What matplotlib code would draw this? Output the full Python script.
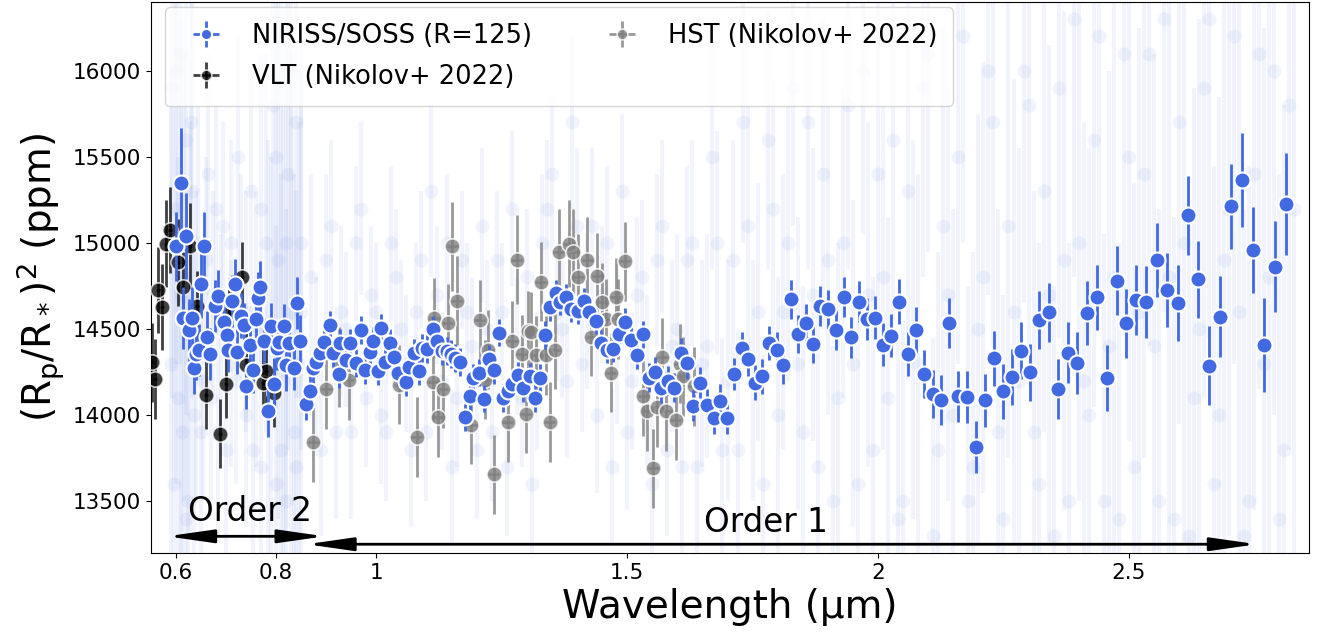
import matplotlib.pyplot as plt
import numpy as np

# NIRISS/SOSS, R=125 binned (order 2 then order 1)
soss_wl = [0.601, 0.611, 0.614, 0.621, 0.627, 0.632, 0.637, 0.641, 0.646, 0.651,
           0.656, 0.662, 0.668, 0.679, 0.684, 0.696, 0.702, 0.705, 0.713, 0.719,
           0.723, 0.731, 0.736, 0.741, 0.748, 0.754, 0.760, 0.765, 0.769, 0.777,
           0.784, 0.791, 0.796, 0.803, 0.807, 0.816, 0.821, 0.826, 0.836, 0.841,
           0.847,
           0.860, 0.867, 0.874, 0.880, 0.887, 0.896, 0.907, 0.913, 0.925, 0.927,
           0.940, 0.947, 0.960, 0.970, 0.978, 0.987, 0.993, 1.003, 1.010, 1.017,
           1.027, 1.035, 1.043, 1.060, 1.066, 1.076, 1.085, 1.092, 1.102, 1.113,
           1.121, 1.130, 1.140, 1.148, 1.156, 1.166, 1.176, 1.186, 1.193, 1.204,
           1.214, 1.225, 1.234, 1.244, 1.252, 1.262, 1.271, 1.282, 1.292, 1.306,
           1.316, 1.326, 1.337, 1.347, 1.358, 1.367, 1.379, 1.389, 1.402, 1.413,
           1.424, 1.437, 1.447, 1.459, 1.471, 1.483, 1.495, 1.507, 1.520, 1.532,
           1.544, 1.556, 1.568, 1.581, 1.593, 1.607, 1.619, 1.631, 1.646, 1.659,
           1.673, 1.686, 1.699, 1.713, 1.728, 1.741, 1.754, 1.769, 1.783, 1.798,
           1.811, 1.826, 1.841, 1.856, 1.871, 1.885, 1.901, 1.916, 1.932, 1.947,
           1.962, 1.977, 1.994, 2.010, 2.025, 2.042, 2.059, 2.075, 2.092, 2.109,
           2.125, 2.142, 2.160, 2.178, 2.195, 2.213, 2.231, 2.249, 2.267, 2.285,
           2.303, 2.321, 2.341, 2.359, 2.378, 2.397, 2.416, 2.436, 2.456, 2.476,
           2.494, 2.515, 2.535, 2.555, 2.576, 2.597, 2.618, 2.638, 2.660, 2.682,
           2.703, 2.725, 2.747, 2.769, 2.791, 2.813]
soss_depth = [14981, 15350, 14563, 15039, 14495, 14563, 14274, 14356, 14380, 14762,
              14981, 14453, 14356, 14634, 14692, 14543, 14466, 14380, 14665, 14760,
              14370, 14578, 14524, 14167, 14409, 14260, 14559, 14682, 14746, 14434,
              14023, 14520, 14181, 14390, 14424, 14518, 14293, 14422, 14277, 14650,
              14432,
              14065, 14138, 14274, 14312, 14359, 14424, 14524, 14360, 14240, 14422,
              14318, 14422, 14303, 14495, 14260, 14370, 14432, 14258, 14505, 14312,
              14418, 14337, 14248, 14193, 14280, 14360, 14258, 14390, 14384, 14499,
              14434, 14374, 14374, 14355, 14332, 14308, 13988, 14109, 14216, 14248,
              14096, 14326, 14260, 14480, 14100, 14138, 14180, 14231, 14158, 14225,
              14100, 14219, 14466, 14627, 14711, 14659, 14688, 14615, 14607, 14665,
              14598, 14548, 14422, 14380, 14384, 14472, 14543, 14437, 14347, 14470,
              14219, 14251, 14158, 14200, 14161, 14360, 14303, 14055, 14190, 14061,
              13984, 14085, 13984, 14239, 14390, 14328, 14190, 14225, 14418, 14376,
              14289, 14673, 14470, 14534, 14414, 14634, 14615, 14495, 14688, 14453,
              14659, 14559, 14567, 14409, 14462, 14659, 14355, 14495, 14239, 14123,
              14086, 14534, 14109, 14106, 13816, 14086, 14332, 14138, 14222, 14374,
              14250, 14553, 14598, 14154, 14364, 14303, 14592, 14685, 14216, 14781,
              14534, 14669, 14659, 14900, 14727, 14653, 15161, 14789, 14287, 14572,
              15213, 15364, 14958, 14409, 14862, 15225]
soss_err = [200, 320, 180, 250, 180, 180, 150, 150, 150, 200,
            200, 150, 150, 150, 150, 150, 130, 130, 150, 150,
            130, 130, 130, 130, 130, 130, 130, 150, 150, 130,
            150, 130, 150, 130, 130, 130, 150, 130, 130, 150,
            150,
            90, 90, 85, 85, 85, 85, 80, 80, 80, 80,
            80, 80, 80, 80, 80, 80, 80, 80, 80, 80,
            80, 80, 80, 80, 80, 80, 80, 80, 80, 80,
            80, 80, 80, 80, 80, 80, 80, 80, 80, 80,
            80, 80, 80, 80, 80, 80, 80, 80, 80, 80,
            80, 80, 80, 80, 75, 75, 75, 75, 75, 75,
            75, 75, 75, 75, 75, 75, 80, 80, 80, 80,
            85, 85, 85, 85, 85, 90, 90, 90, 90, 90,
            95, 95, 95, 95, 95, 100, 100, 100, 100, 105,
            105, 115, 110, 110, 110, 115, 115, 115, 116, 120,
            120, 120, 125, 125, 125, 130, 130, 135, 140, 140,
            145, 145, 150, 150, 150, 155, 160, 160, 160, 165,
            165, 170, 170, 175, 175, 180, 185, 190, 190, 200,
            200, 205, 210, 215, 215, 220, 231, 225, 230, 235,
            245, 273, 250, 272, 265, 295]
soss_xerr = 0.004

# VLT (Nikolov+ 2022)
vlt_wl = [0.552, 0.558, 0.564, 0.573, 0.580, 0.589, 0.604, 0.615, 0.629, 0.643,
          0.661, 0.689, 0.701, 0.706, 0.733, 0.741, 0.774, 0.781, 0.796]
vlt_depth = [14308, 14210, 14727, 14627, 14997, 15074, 14887, 14746, 14981, 14636,
             14119, 13894, 14183, 14595, 14804, 14293, 14187, 14258, 14129]
vlt_err = [230, 230, 250, 250, 250, 250, 250, 200, 250, 200,
           200, 200, 200, 200, 200, 200, 200, 200, 200]
vlt_xerr = 0.004

# HST (Nikolov+ 2022)
hst_wl = [0.874, 0.900, 0.925, 0.945, 1.046, 1.081, 1.113, 1.116, 1.123, 1.132,
          1.142, 1.151, 1.160, 1.189, 1.206, 1.216, 1.223, 1.234, 1.262, 1.271,
          1.280, 1.290, 1.298, 1.302, 1.309, 1.318, 1.328, 1.338, 1.346, 1.356,
          1.364, 1.384, 1.392, 1.402, 1.420, 1.428, 1.440, 1.449, 1.457, 1.467,
          1.477, 1.481, 1.495, 1.532, 1.540, 1.552, 1.560, 1.570, 1.578, 1.597,
          1.605, 1.611, 1.633]
hst_depth = [13843, 14150, 14280, 14202, 14177, 13874, 14193, 14567, 13990, 14154,
             14534, 14981, 14665, 13946, 14553, 14206, 14380, 13656, 13961, 14432,
             14904, 14353, 14008, 14490, 14486, 14347, 14775, 14347, 13961, 14380,
             14948, 14997, 14948, 14800, 14900, 14457, 14810, 14656, 14559, 14248,
             14685, 14559, 14895, 14109, 14023, 13691, 14046, 14337, 14023, 13970,
             14300, 14225, 14167]
hst_err = [230, 230, 230, 230, 230, 230, 230, 230, 230, 230,
           230, 260, 260, 230, 230, 230, 230, 230, 230, 230,
           260, 230, 230, 230, 230, 230, 230, 230, 230, 230,
           250, 250, 250, 250, 250, 230, 250, 230, 230, 230,
           230, 230, 230, 230, 230, 230, 230, 230, 230, 230,
           230, 230, 230]
hst_xerr = 0.011

# native-resolution NIRISS/SOSS spectrum (faint background), two interleaved sets
faint_wl = [0.592, 0.596, 0.600, 0.604, 0.608, 0.612, 0.616, 0.620, 0.624, 0.628,
            0.632, 0.636, 0.645, 0.655, 0.665, 0.675, 0.685, 0.695, 0.710, 0.725,
            0.740, 0.755, 0.770, 0.785, 0.795, 0.800, 0.805, 0.810, 0.815, 0.820,
            0.825, 0.830, 0.835, 0.840, 0.845, 0.850,
            0.87, 0.89, 0.91, 0.93, 0.95, 0.97, 0.99, 1.01, 1.03, 1.05,
            1.07, 1.09, 1.11, 1.13, 1.15, 1.17, 1.19, 1.21, 1.23, 1.25,
            1.27, 1.29, 1.31, 1.33, 1.35, 1.37, 1.39, 1.41, 1.43, 1.45,
            1.47, 1.49, 1.51, 1.53, 1.55, 1.57, 1.59, 1.61, 1.63, 1.65,
            1.67, 1.69, 1.71, 1.73, 1.75, 1.77, 1.79, 1.81, 1.83, 1.85,
            1.87, 1.89, 1.91, 1.93, 1.95, 1.97, 1.99, 2.01, 2.03, 2.05,
            2.07, 2.09, 2.11, 2.13, 2.15, 2.17, 2.19, 2.21, 2.23, 2.25,
            2.27, 2.29, 2.31, 2.33, 2.35, 2.37, 2.39, 2.41, 2.43, 2.45,
            2.47, 2.49, 2.51, 2.53, 2.55, 2.57, 2.59, 2.61, 2.63, 2.65,
            2.67, 2.69, 2.71, 2.73, 2.75, 2.77, 2.79, 2.81, 2.83]
faint_depth = [15900, 13600, 15200, 14100, 16100, 13900, 14800, 15600, 13500, 14500,
               15300, 14000, 15000, 14200, 15400, 14700, 13900, 15100, 14300, 15500,
               14600, 13800, 15200, 14400, 15800, 13600, 14900, 16200, 14200, 13500,
               15400, 14600, 13900, 15700, 14300, 15000,
               14800, 13800, 15100, 14600, 13900, 15200, 14700, 14000, 15000, 14500,
               13800, 14900, 15300, 14200, 13700, 14900, 14400, 15100, 13900, 14600,
               15200, 14100, 13600, 15000, 15400, 14500, 15700, 14300, 15100, 14700,
               13700, 15300, 14200, 14800, 13600, 15100, 14400, 13700, 15000, 14300,
               15500, 13800, 14900, 15700, 14200, 13600, 15200, 14600, 15900, 13900,
               14700, 15400, 13500, 15000, 14300, 16000, 13800, 14800, 15600, 13500,
               14500, 15900, 13300, 15100, 14000, 16200, 13700, 14800, 15700, 13400,
               14600, 16000, 13900, 15300, 13300, 14900, 16300, 14200, 15600, 13500,
               14800, 16100, 13700, 15400, 14400, 16300, 13400, 15000, 14100, 15900,
               13600, 14900, 16200, 13300, 15400, 14300, 16000, 13800, 15200]
faint_err = [1800, 1500, 1600, 1400, 1800, 1500, 1300, 1600, 1400, 1200,
             1200, 1000, 800, 700, 700, 600, 600, 600, 600, 700,
             700, 800, 900, 1200, 1400, 1500, 1500, 1800, 1600, 1700,
             1600, 1500, 1500, 1600, 1400, 1200,
             600, 500, 500, 500, 500, 500, 400, 400, 450, 400,
             450, 400, 500, 400, 450, 400, 400, 450, 400, 400,
             450, 400, 450, 400, 450, 400, 500, 400, 450, 400,
             450, 450, 400, 450, 500, 500, 500, 550, 600, 600,
             650, 650, 700, 700, 700, 750, 750, 800, 800, 850,
             850, 900, 900, 900, 950, 950, 1000, 1000, 1050, 1050,
             1100, 1100, 1150, 1150, 1200, 1200, 1250, 1250, 1300, 1300,
             1350, 1350, 1400, 1400, 1450, 1450, 1500, 1500, 1550, 1550,
             1600, 1600, 1650, 1650, 1700, 1700, 1750, 1750, 1800, 1800,
             1850, 1850, 1900, 1900, 1950, 1950, 2000, 2000, 2000]

faint2_wl = [0.590, 0.600, 0.610, 0.620, 0.630, 0.640, 0.650, 0.660, 0.670, 0.680,
             0.690, 0.700, 0.710, 0.720, 0.730, 0.740, 0.750, 0.760, 0.770, 0.780,
             0.790, 0.800, 0.810, 0.820, 0.830, 0.840, 0.850,
             0.88, 0.90, 0.92, 0.94, 0.96, 0.98, 1.00, 1.02, 1.04, 1.06,
             1.08, 1.10, 1.12, 1.14, 1.16, 1.18, 1.20, 1.22, 1.24, 1.26,
             1.28, 1.30, 1.32, 1.34, 1.36, 1.38, 1.40, 1.42, 1.44, 1.46,
             1.48, 1.50, 1.52, 1.54, 1.56, 1.58, 1.60, 1.62, 1.64, 1.66,
             1.68, 1.70, 1.72, 1.74, 1.76, 1.78, 1.80, 1.82, 1.84, 1.86,
             1.88, 1.90, 1.92, 1.94, 1.96, 1.98, 2.00, 2.02, 2.04, 2.06,
             2.08, 2.10, 2.12, 2.14, 2.16, 2.18, 2.20, 2.22, 2.24, 2.26,
             2.28, 2.30, 2.32, 2.34, 2.36, 2.38, 2.40, 2.42, 2.44, 2.46,
             2.48, 2.50, 2.52, 2.54, 2.56, 2.58, 2.60, 2.62, 2.64, 2.66,
             2.68, 2.70, 2.72, 2.74, 2.76, 2.78, 2.80, 2.82]
faint2_depth = [14300, 16000, 14700, 13400, 15700, 14400, 13900, 14900, 14100, 15200,
                14500, 13800, 15000, 14200, 14800, 14000, 15300, 14500, 13700, 15000,
                14200, 15500, 13800, 15000, 16000, 13700, 14600,
                14300, 14900, 13900, 14500, 15000, 14100, 14600, 13900, 14800, 14300,
                14600, 13900, 14700, 15000, 14100, 14600, 13800, 14500, 14900, 13700,
                14400, 14800, 14200, 15200, 14600, 14200, 15100, 14600, 14000, 15000,
                14400, 13900, 14700, 14200, 14900, 13800, 14500, 14900, 13700, 14400,
                15000, 14200, 13800, 15100, 14600, 15600, 14000, 15000, 14300, 15700,
                13700, 14900, 14100, 15800, 13600, 14700, 15400, 14100, 13400, 15300,
                14300, 16100, 13800, 14700, 15500, 13500, 14500, 16000, 13900, 15100,
                14200, 15800, 13600, 14700, 15900, 13500, 15000, 14000, 16200, 14400,
                13400, 15500, 14600, 16100, 13500, 14800, 15700, 13300, 14500, 16300,
                14000, 15200, 14600, 13500, 16100, 14800, 13400, 15800]
faint2_err = [1700, 1700, 1600, 1500, 1300, 900, 700, 600, 600, 600,
              550, 600, 600, 600, 600, 650, 700, 800, 900, 1100,
              1300, 1500, 1600, 1700, 1700, 1600, 1400,
              500, 500, 500, 450, 450, 400, 400, 400, 400, 400,
              400, 400, 400, 400, 400, 400, 400, 400, 400, 400,
              400, 400, 400, 400, 400, 450, 450, 450, 450, 450,
              450, 450, 450, 500, 500, 500, 550, 550, 600, 650,
              650, 700, 700, 700, 750, 750, 800, 800, 850, 850,
              900, 900, 900, 950, 950, 1000, 1000, 1050, 1050, 1100,
              1100, 1150, 1150, 1200, 1200, 1250, 1250, 1300, 1300, 1350,
              1350, 1400, 1400, 1450, 1450, 1500, 1500, 1550, 1550, 1600,
              1600, 1650, 1650, 1700, 1700, 1750, 1750, 1800, 1800, 1850,
              1850, 1900, 1900, 1950, 1950, 2000, 2000, 2000]

fig, ax = plt.subplots(figsize=(13.2, 6.42), dpi=100)
fig.subplots_adjust(left=0.1144, right=0.9917, bottom=0.1386, top=0.997)

for fw, fd, fe in [(faint_wl, faint_depth, faint_err), (faint2_wl, faint2_depth, faint2_err)]:
    ax.errorbar(fw, fd, yerr=fe, fmt='o', color='royalblue',
                ms=10, mec='none', elinewidth=3, alpha=0.07, zorder=1)

ax.errorbar(hst_wl, hst_depth, yerr=hst_err, xerr=hst_xerr, fmt='o', color='grey',
            ms=11, mec='white', mew=1.2, elinewidth=2, alpha=0.8, zorder=2,
            label='HST (Nikolov+ 2022)')
ax.errorbar(vlt_wl, vlt_depth, yerr=vlt_err, xerr=vlt_xerr, fmt='o', color='black',
            ms=11, mec='white', mew=1.2, elinewidth=2, alpha=0.75, zorder=3,
            label='VLT (Nikolov+ 2022)')
ax.errorbar(soss_wl, soss_depth, yerr=soss_err, xerr=soss_xerr, fmt='o', color='royalblue',
            ms=11.5, mec='white', mew=1.5, elinewidth=2, zorder=4,
            label='NIRISS/SOSS (R=125)')

# spectral order ranges
arrow_style = '<|-|>,head_length=1.4,head_width=0.2'
ax.annotate('', xy=(0.583, 13297), xytext=(0.897, 13297),
            arrowprops=dict(arrowstyle=arrow_style, color='black', lw=2,
                            mutation_scale=20, shrinkA=0, shrinkB=0), zorder=5)
ax.text(0.748, 13440, 'Order 2', fontsize=23.5, ha='center', va='center', zorder=5)
ax.annotate('', xy=(0.861, 13251), xytext=(2.755, 13251),
            arrowprops=dict(arrowstyle=arrow_style, color='black', lw=2,
                            mutation_scale=20, shrinkA=0, shrinkB=0), zorder=5)
ax.text(1.777, 13378, 'Order 1', fontsize=23.5, ha='center', va='center', zorder=5)

ax.set_xlim(0.551, 2.859)
ax.set_ylim(13200, 16400)
ax.set_xticks([0.6, 0.8, 1, 1.5, 2, 2.5])
ax.set_xticklabels(['0.6', '0.8', '1', '1.5', '2', '2.5'])
ax.set_yticks([13500, 14000, 14500, 15000, 15500, 16000])
ax.tick_params(labelsize=15.5)
ax.set_xlabel('Wavelength (µm)', fontsize=28)
ax.set_ylabel(r'$(\mathrm{R_p/R_*})^2$ (ppm)', fontsize=28)

handles, labels = ax.get_legend_handles_labels()
order = [labels.index('NIRISS/SOSS (R=125)'), labels.index('VLT (Nikolov+ 2022)'),
         labels.index('HST (Nikolov+ 2022)')]
leg = ax.legend([handles[i] for i in order], [labels[i] for i in order], ncol=2,
                loc='upper left', fontsize=18.5, markerscale=0.7, columnspacing=2.5,
                labelspacing=0.6, borderpad=0.6,
                borderaxespad=0, bbox_to_anchor=(0.012, 0.99))
leg.set_zorder(10)

fig.savefig('out.png', dpi=100)
